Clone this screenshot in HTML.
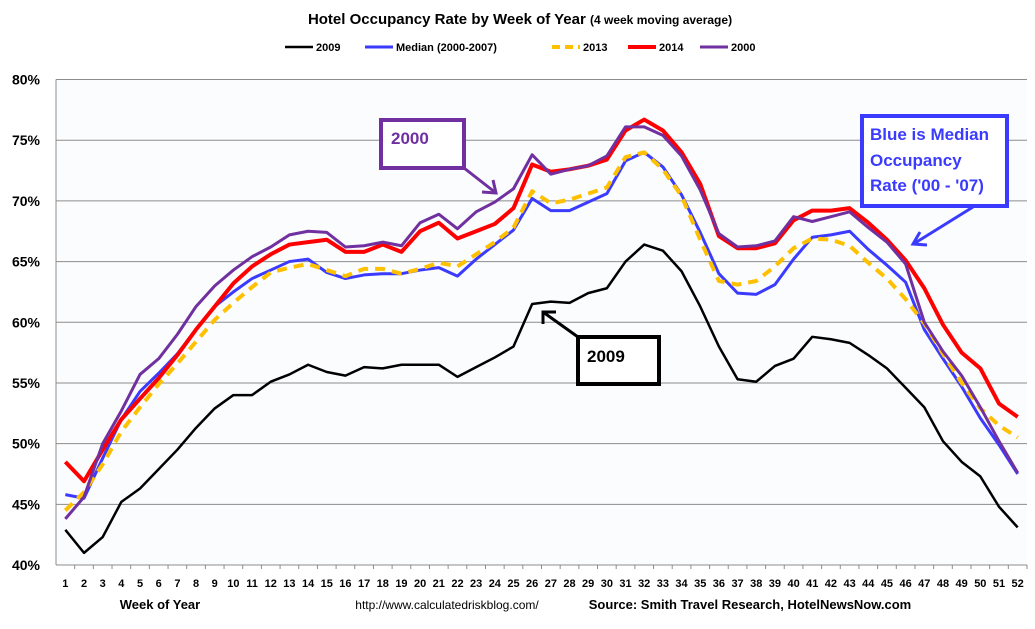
<!DOCTYPE html>
<html><head><meta charset="utf-8"><style>
body{margin:0;background:#fff;font-family:"Liberation Sans",sans-serif}
svg text{font-family:"Liberation Sans",sans-serif}
</style></head><body>
<svg id="chart" width="1035" height="624" xmlns="http://www.w3.org/2000/svg">
<rect x="0" y="0" width="1035" height="624" fill="#fff"/>
<text x="520" y="24" text-anchor="middle" font-size="15" font-weight="bold">Hotel Occupancy Rate by  Week of Year <tspan font-size="12">(4 week moving average)</tspan></text>
<g id="legend"></g>
<rect x="56" y="79" width="971" height="486" fill="#fbfcfe"/>
<g id="grid"></g><g id="series"></g><g id="xaxis"></g><g id="yaxis"></g>
<g>
<rect x="381" y="120" width="83" height="48" fill="#fff" stroke="#7030a0" stroke-width="4"/>
<text x="391" y="144" font-size="17" font-weight="bold" fill="#7030a0">2000</text>
<line x1="464" y1="168" x2="496" y2="193" stroke="#7030a0" stroke-width="3"/>
<polyline points="482,192 496,193 493,180" fill="none" stroke="#7030a0" stroke-width="3"/>
</g>
<g>
<rect x="578" y="337" width="81" height="47" fill="#fff" stroke="#000" stroke-width="4"/>
<text x="587" y="362" font-size="17" font-weight="bold">2009</text>
<line x1="578" y1="337" x2="543" y2="312" stroke="#000" stroke-width="3"/>
<polyline points="543,324 543,312 556,312" fill="none" stroke="#000" stroke-width="3"/>
</g>
<g>
<rect x="862" y="116" width="145" height="90" fill="#fff" stroke="#3b3bff" stroke-width="4"/>
<text x="870" y="140" font-size="17" font-weight="bold" fill="#3b3bff">Blue is Median</text>
<text x="870" y="166" font-size="17" font-weight="bold" fill="#3b3bff">Occupancy</text>
<text x="870" y="191" font-size="17" font-weight="bold" fill="#3b3bff">Rate ('00 - '07)</text>
<line x1="973" y1="207" x2="915" y2="243" stroke="#3b3bff" stroke-width="3"/>
<polyline points="920,232 913,244 927,245" fill="none" stroke="#3b3bff" stroke-width="3"/>
</g>
<text x="160" y="609" text-anchor="middle" font-size="13" font-weight="bold">Week of Year</text>
<text x="447" y="609" text-anchor="middle" font-size="12">http://www.calculatedriskblog.com/</text>
<text x="750" y="609" text-anchor="middle" font-size="13" font-weight="bold">Source: Smith Travel Research, HotelNewsNow.com</text>
</svg>
<script>
const weeks=[];for(let i=1;i<=52;i++)weeks.push(i);
const yTicks=[40,45,50,55,60,65,70,75,80];
const s2009=[42.9,41.0,42.3,45.2,46.3,47.9,49.5,51.3,52.9,54.0,54.0,55.1,55.7,56.5,55.9,55.6,56.3,56.2,56.5,56.5,56.5,55.5,56.3,57.1,58.0,61.5,61.7,61.6,62.4,62.8,65.0,66.4,65.9,64.2,61.3,58.0,55.3,55.1,56.4,57.0,58.8,58.6,58.3,57.3,56.2,54.6,53.0,50.2,48.5,47.3,44.8,43.1];
const sMedian=[45.8,45.5,48.8,52.0,54.3,55.8,57.4,59.4,61.3,62.5,63.6,64.3,65.0,65.2,64.1,63.6,63.9,64.0,64.0,64.3,64.5,63.8,65.2,66.4,67.6,70.2,69.2,69.2,69.9,70.6,73.3,74.0,72.8,70.5,67.4,64.0,62.4,62.3,63.1,65.2,67.0,67.2,67.5,66.0,64.7,63.3,59.4,57.0,54.7,52.1,49.9,47.5];
const s2013=[44.5,46.0,48.3,51.0,53.0,54.9,56.6,58.4,60.2,61.6,62.9,64.1,64.5,64.8,64.3,63.8,64.4,64.4,64.0,64.4,64.9,64.6,65.6,66.6,67.8,70.8,69.8,70.1,70.6,71.1,73.6,74.0,72.6,70.4,66.8,63.4,63.1,63.4,64.6,66.1,66.9,66.8,66.3,64.9,63.6,61.9,59.9,57.4,55.0,52.9,51.5,50.5];
const s2014=[48.5,46.9,49.5,52.0,53.7,55.4,57.3,59.4,61.3,63.2,64.6,65.6,66.4,66.6,66.8,65.8,65.8,66.4,65.8,67.5,68.2,66.9,67.5,68.1,69.4,73.0,72.4,72.6,72.9,73.4,75.8,76.7,75.8,74.0,71.4,67.1,66.1,66.1,66.5,68.4,69.2,69.2,69.4,68.2,66.8,65.1,62.8,59.8,57.5,56.2,53.3,52.2];
const s2000=[43.8,45.6,50.0,52.7,55.7,57.0,59.0,61.3,63.0,64.3,65.4,66.2,67.2,67.5,67.4,66.2,66.3,66.6,66.3,68.2,68.9,67.7,69.1,69.9,71.0,73.8,72.2,72.6,72.9,73.7,76.1,76.1,75.4,73.7,70.9,67.3,66.2,66.3,66.7,68.7,68.3,68.7,69.1,67.8,66.6,64.8,60.0,57.6,55.6,53.0,50.2,47.6];
const NS="http://www.w3.org/2000/svg";
const L=56,R=1027,T=79.5,B=565;
const step=(R-L)/52;
const x=w=>L+step*(w-0.5);
const y=v=>B-(v-40)/40*(B-T);
function mk(tag,attrs,parent){const e=document.createElementNS(NS,tag);for(const k in attrs)e.setAttribute(k,attrs[k]);parent.appendChild(e);return e;}
const grid=document.getElementById('grid'),ya=document.getElementById('yaxis'),xa=document.getElementById('xaxis');
yTicks.forEach(t=>{
 const g=mk('line',{x1:L,x2:R,y1:y(t),y2:y(t),stroke:'#8c8c8c','stroke-width':1},grid);
 
 
 const tx=mk('text',{x:40,y:y(t)+5,'text-anchor':'end','font-size':14,'font-weight':'bold'},ya);
 tx.textContent=t+'%';
 
 
});
mk('line',{x1:L,x2:L,y1:T,y2:B,stroke:'#8c8c8c'},ya);
mk('line',{x1:L,x2:R,y1:B,y2:B,stroke:'#8c8c8c'},xa);
weeks.forEach(w=>{
 mk('line',{x1:L+step*w,x2:L+step*w,y1:B,y2:B+4,stroke:'#8c8c8c'},xa);
 const tx=mk('text',{x:x(w),y:587,'text-anchor':'middle','font-size':11,'font-weight':'bold'},xa);
 tx.textContent=w;
 
 
});
const series=[
 {name:'series-2009',data:s2009,color:'#000',w:2.5,dash:null,label:'2009'},
 {name:'series-median',data:sMedian,color:'#3b3bff',w:3,dash:null,label:'Median (2000-2007)'},
 {name:'series-2013',data:s2013,color:'#ffc000',w:4,dash:'10,7',label:'2013'},
 {name:'series-2014',data:s2014,color:'#ff0000',w:4,dash:null,label:'2014'},
 {name:'series-2000',data:s2000,color:'#7030a0',w:3,dash:null,label:'2000'}];
const sg=document.getElementById('series');
series.forEach(s=>{
 const p=mk('polyline',{points:s.data.map((v,i)=>x(weeks[i])+','+y(v)).join(' '),fill:'none',stroke:s.color,'stroke-width':s.w,'stroke-linejoin':'round'},sg);
 if(s.dash)p.setAttribute('stroke-dasharray',s.dash);
 
 
});
const lg=document.getElementById('legend');
const lx=[285,365,552,628,700];
series.forEach((s,i)=>{
 const l=mk('line',{x1:lx[i],x2:lx[i]+28,y1:47,y2:47,stroke:s.color,'stroke-width':s.w},lg);
 if(s.dash)l.setAttribute('stroke-dasharray','8,5');
 
 
 const t=mk('text',{x:lx[i]+31,y:51,'font-size':11,'font-weight':'bold'},lg);
 t.textContent=s.label;
 
 
});
</script>
</body></html>
